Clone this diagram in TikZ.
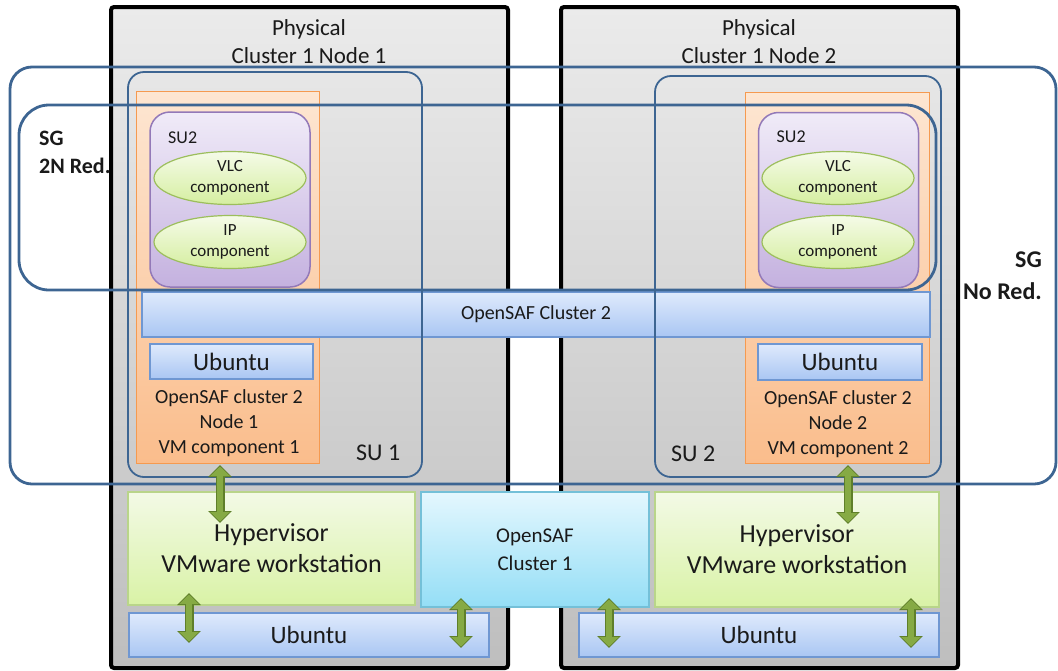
\documentclass[tikz,border=0pt]{standalone}
\usepackage{fontspec}
\setmainfont{Carlito}
\usepackage{tikz}
\usepackage{xcolor}
\definecolor{sg_blue}{HTML}{3D6592}
\definecolor{phys_top}{HTML}{EBEBEB}
\definecolor{phys_bot}{HTML}{BEBEBE}
\definecolor{vm_top}{HTML}{FDE6D2}
\definecolor{vm_bot}{HTML}{FABD8C}
\definecolor{vm_line}{HTML}{F59A50}
\definecolor{su_top}{HTML}{F0EBF8}
\definecolor{su_bot}{HTML}{C4B1DF}
\definecolor{su_line}{HTML}{9379B8}
\definecolor{comp_top}{HTML}{F5FBE8}
\definecolor{comp_bot}{HTML}{D5EEA0}
\definecolor{comp_line}{HTML}{9CBE5C}
\definecolor{os_top}{HTML}{DFEAFC}
\definecolor{os_bot}{HTML}{A9C6F3}
\definecolor{os_line}{HTML}{6F97D2}
\definecolor{hyp_top}{HTML}{F3FAE6}
\definecolor{hyp_bot}{HTML}{D9F2A6}
\definecolor{hyp_line}{HTML}{B9D58A}
\definecolor{cl_top}{HTML}{E4F7FE}
\definecolor{cl_bot}{HTML}{94DEF6}
\definecolor{cl_line}{HTML}{74C0D8}
\definecolor{arrow_green}{HTML}{86AA44}
\definecolor{arrow_dark}{HTML}{5F7F2A}
\definecolor{txt_dark}{HTML}{1A1A1A}
\usetikzlibrary{shapes.geometric,positioning,calc,arrows.meta}
\tikzset{PHYSICAL/.style={rectangle,draw=black,line width=4pt,rounded corners=3pt,top color=phys_top,bottom color=phys_bot,inner sep=0pt,outer sep=0pt,minimum width=397pt,minimum height=661pt}}
\tikzset{PLABEL/.style={align=center,inner sep=0pt,text=txt_dark,font=\fontsize{23}{28}\selectfont}}
\tikzset{VMBOX/.style={rectangle,draw=vm_line,line width=1pt,top color=vm_top,bottom color=vm_bot,inner sep=0pt,outer sep=0pt}}
\tikzset{SUBOX/.style={rectangle,rounded corners=20pt,draw=su_line,line width=1.5pt,top color=su_top,bottom color=su_bot,inner sep=0pt,outer sep=0pt,minimum width=160pt,minimum height=175pt}}
\tikzset{COMP/.style={ellipse,draw=comp_line,line width=1.2pt,top color=comp_top,bottom color=comp_bot,inner sep=0pt,outer sep=0pt,minimum width=152pt,minimum height=53pt,align=center,text=txt_dark,font=\fontsize{17}{21}\selectfont}}
\tikzset{OSBOX/.style={rectangle,draw=os_line,line width=1.2pt,top color=os_top,bottom color=os_bot,inner sep=0pt,outer sep=0pt,text=txt_dark,font=\fontsize{25}{30}\selectfont}}
\tikzset{HYPER/.style={rectangle,draw=hyp_line,line width=1.2pt,top color=hyp_top,bottom color=hyp_bot,inner sep=0pt,outer sep=0pt,align=center,text=txt_dark,font=\fontsize{26}{31}\selectfont}}
\tikzset{CLUSTER/.style={rectangle,draw=cl_line,line width=1.2pt,top color=cl_top,bottom color=cl_bot,inner sep=0pt,outer sep=0pt,align=center,text=txt_dark,font=\fontsize{21}{28}\selectfont}}
\tikzset{SGLINE/.style={rectangle,draw=sg_blue,line width=2.8pt,inner sep=0pt,outer sep=0pt}}
\tikzset{SULINE/.style={rectangle,rounded corners=16pt,draw=sg_blue,line width=1.8pt,inner sep=0pt,outer sep=0pt}}
\tikzset{TXT/.style={inner sep=0pt,text=txt_dark}}
\tikzset{DARROWBACK/.style={line width=9pt,draw=arrow_dark,{Triangle[width=23pt,length=12pt]}-{Triangle[width=23pt,length=12pt]}}}
\tikzset{DARROW/.style={line width=6pt,draw=arrow_green,shorten <=1.5pt,shorten >=1.5pt,{Triangle[width=19pt,length=9.5pt]}-{Triangle[width=19pt,length=9.5pt]}}}

\begin{document}
\begin{tikzpicture}[x=1pt,y=-1pt]

\useasboundingbox (0,0) rectangle (1058,670);

\node[PHYSICAL] (n_phys1) at (309.5,337.5) {};
\node[PHYSICAL] (n_phys2) at (759.5,337.5) {};
\node[PLABEL] (n_phys1_lbl) at (309,42) {Physical\\Cluster 1 Node 1};
\node[PLABEL] (n_phys2_lbl) at (759,42) {Physical\\Cluster 1 Node 2};

\node[VMBOX, minimum width=183pt, minimum height=372pt] (n_vm1) at (227.5,277) {};
\node[VMBOX, minimum width=184pt, minimum height=371pt] (n_vm2) at (837,277.5) {};

\node[SUBOX] (n_su2a) at (230,199.5) {};
\node[SUBOX] (n_su2b) at (838.5,200) {};
\node[TXT, anchor=base west, font=\fontsize{18}{22}\selectfont] (n_su2a_lbl) at ($(n_su2a.north west)+(18,31)$) {SU2};
\node[TXT, anchor=base west, font=\fontsize{18}{22}\selectfont] (n_su2b_lbl) at ($(n_su2b.north west)+(18,30)$) {SU2};

\node[COMP] (n_vlc1) at (230,178) {VLC\\component};
\node[COMP, below=11pt of n_vlc1] (n_ip1) {IP\\component};
\node[COMP] (n_vlc2) at (838,178) {VLC\\component};
\node[COMP, below=11pt of n_vlc2] (n_ip2) {IP\\component};

\node[OSBOX, minimum width=788pt, minimum height=45pt, font=\fontsize{20}{24}\selectfont] (n_os2) at (536,314.5) {OpenSAF Cluster 2};

\node[OSBOX, minimum width=163pt, minimum height=35pt] (n_ub_vm1) at (231.5,361.5) {Ubuntu};
\node[OSBOX, minimum width=164pt, minimum height=36pt] (n_ub_vm2) at (840,362) {Ubuntu};

\node[TXT, align=center, font=\fontsize{20}{25}\selectfont] (n_vm1_lbl) at (229,423) {OpenSAF cluster 2\\Node 1\\VM component 1};
\node[TXT, align=center, font=\fontsize{20}{25}\selectfont] (n_vm2_lbl) at (838,424) {OpenSAF cluster 2\\Node 2\\VM component 2};

\node[TXT, anchor=base west, font=\fontsize{24}{28}\selectfont] (n_su1_lbl) at (356,460) {SU 1};
\node[TXT, anchor=base west, font=\fontsize{24}{28}\selectfont] (n_su2_lbl) at (671,461) {SU 2};

\node[HYPER, minimum width=287pt, minimum height=113pt] (n_hyp1) at (271.5,548.5) {Hypervisor\\VMware workstation};
\node[CLUSTER, minimum width=228pt, minimum height=115pt, right=6pt of n_hyp1.north east, anchor=north west] (n_os1) {OpenSAF\\Cluster 1};
\node[HYPER, minimum width=284pt, minimum height=115pt, right=6pt of n_os1.north east, anchor=north west] (n_hyp2) {Hypervisor\\VMware workstation};

\node[OSBOX, minimum width=360pt, minimum height=44pt] (n_ub1) at (309,635) {Ubuntu};
\node[OSBOX, minimum width=360pt, minimum height=44pt] (n_ub2) at (759,635) {Ubuntu};

% service units and service groups
\node[SULINE, minimum width=294pt, minimum height=405pt] (n_su1) at (275,274.5) {};
\node[SULINE, minimum width=286pt, minimum height=401pt] (n_su2) at (798,276.5) {};
\node[SGLINE, rounded corners=22pt, minimum width=1046pt, minimum height=417pt] (n_sg_nored) at (533,275.5) {};
\node[SGLINE, rounded corners=30pt, minimum width=917pt, minimum height=185pt] (n_sg_2n) at (477.5,197.5) {};

\node[TXT, align=left, anchor=west, font=\bfseries\fontsize{22}{28}\selectfont] (n_sg_2n_lbl) at (39,152) {SG\\2N Red.};
\node[TXT, align=right, anchor=east, font=\bfseries\fontsize{24}{32}\selectfont] (n_sg_nored_lbl) at (1042,276) {SG\\No Red.};

% green links
\coordinate (c_vm1_down) at ($(n_vm1.south)+(-7.5,2)$);
\coordinate (c_hyp1_up) at ($(c_vm1_down)+(0,58)$);
\draw[DARROWBACK] (c_vm1_down) -- (c_hyp1_up);
\draw[DARROW] (c_vm1_down) -- (c_hyp1_up);

\coordinate (c_vm2_down) at ($(n_vm2.south)+(11,2)$);
\coordinate (c_hyp2_up) at ($(c_vm2_down)+(0,59)$);
\draw[DARROWBACK] (c_vm2_down) -- (c_hyp2_up);
\draw[DARROW] (c_vm2_down) -- (c_hyp2_up);

\coordinate (c_hyp1_down) at ($(n_hyp1.south)+(-82.5,-12)$);
\coordinate (c_ub1_left) at ($(c_hyp1_down)+(0,50)$);
\draw[DARROWBACK] (c_hyp1_down) -- (c_ub1_left);
\draw[DARROW] (c_hyp1_down) -- (c_ub1_left);

\coordinate (c_os1_left) at ($(n_os1.south west)+(40,-9)$);
\coordinate (c_ub1_right) at ($(c_os1_left)+(0,50)$);
\draw[DARROWBACK] (c_os1_left) -- (c_ub1_right);
\draw[DARROW] (c_os1_left) -- (c_ub1_right);

\coordinate (c_os1_right) at ($(n_os1.south east)+(-40,-9)$);
\coordinate (c_ub2_left) at ($(c_os1_right)+(0,50)$);
\draw[DARROWBACK] (c_os1_right) -- (c_ub2_left);
\draw[DARROW] (c_os1_right) -- (c_ub2_left);

\coordinate (c_hyp2_down) at ($(n_hyp2.south east)+(-28,-9)$);
\coordinate (c_ub2_right) at ($(c_hyp2_down)+(0,50)$);
\draw[DARROWBACK] (c_hyp2_down) -- (c_ub2_right);
\draw[DARROW] (c_hyp2_down) -- (c_ub2_right);

\end{tikzpicture}
\end{document}
